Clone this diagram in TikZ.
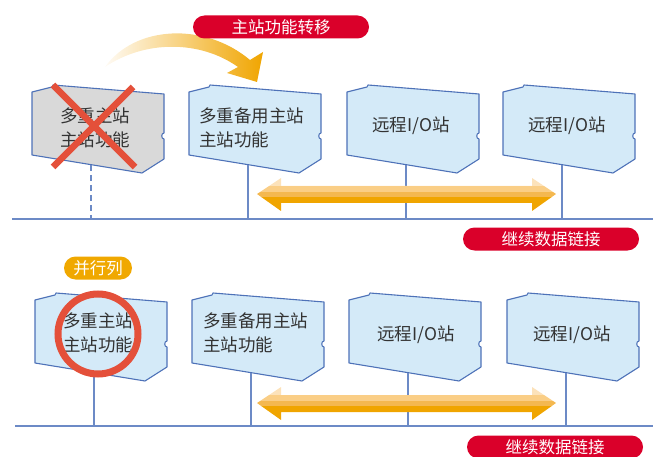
\documentclass[tikz,border=0pt]{standalone}
\usepackage{fontspec}
\setmainfont{Noto Sans CJK SC}
\usepackage{tikz}
\usetikzlibrary{positioning}

\definecolor{boxblue}{RGB}{212,234,248}
\definecolor{boxgray}{RGB}{217,217,217}
\definecolor{edgeblue}{RGB}{78,114,184}
\definecolor{busblue}{RGB}{108,138,198}
\definecolor{tagred}{RGB}{218,0,42}
\definecolor{tagorange}{RGB}{240,168,0}
\definecolor{crossred}{RGB}{228,80,58}
\definecolor{flowA}{RGB}{252,226,186}
\definecolor{flowB}{RGB}{250,206,134}
\definecolor{flowC}{RGB}{244,184,80}
\definecolor{flowD}{RGB}{240,165,0}

\tikzset{
  stationedge/.style={draw=edgeblue, line width=1.1pt, line join=round},
  bus/.style={draw=busblue, line width=1.3pt},
  tag/.style={rounded corners=11.5pt, minimum height=23pt, inner sep=0pt, text=white,
    font=\fontsize{16.5}{18}\selectfont},
  boxtext/.style={font=\fontsize{17.5}{24}\selectfont, inner sep=0pt, text=black!80},
  pics/station/.style={code={
    \draw[stationedge, fill=#1] (0,0) -- (20,-5) -- (21,-7) -- (132,2) -- (132,41)
      .. controls (129,41) and (129,47) .. (132,47) -- (132,67) -- (110,81) -- (0,63) -- cycle;
    \coordinate (-foot) at (59,73);
  }},
  pics/linkflow/.style={code={
    \begin{scope}
      \clip (0,0) -- (24,-16) -- (24,-8) -- (275,-8) -- (275,-16) -- (299,0)
        -- (275,17) -- (275,9) -- (24,9) -- (24,17) -- cycle;
      \fill[flowA] (0,-17) rectangle (299,-8);
      \fill[flowB] (0,-8) rectangle (299,-2);
      \fill[flowC] (0,-2) rectangle (299,3);
      \fill[flowD] (0,3) rectangle (299,18);
    \end{scope}
  }}
}

\begin{document}
\begin{tikzpicture}[x=1pt, y=-1pt]
  \useasboundingbox (0,0) rectangle (653,457);

  % Top network bus
  \coordinate (busTL) at (12,219);
  \coordinate (busTR) at (653,219);
  \draw[bus] (busTL) -- (busTR);

  % Master shift arrow
  \shade[left color=flowA!15, right color=flowD]
    (105,67) .. controls (135,25) and (205,22) .. (250,60) -- (263,52) -- (257,82)
    -- (227,73) -- (238,67) .. controls (200,40) and (145,40) .. (105,67) -- cycle;
  \node[tag, fill=tagred, minimum width=176pt] (shift) at (281,27) {主站功能转移};

  % Top row stations
  \pic (s1) at (32,92) {station=boxgray};
  \pic (s2) at (189,92) {station=boxblue};
  \pic (s3) at (347,92) {station=boxblue};
  \pic (s4) at (503,92) {station=boxblue};
  \draw[bus, dash pattern=on 6pt off 4pt] (s1-foot) -- (s1-foot |- busTL);
  \draw[bus] (s2-foot) -- (s2-foot |- busTL);
  \draw[bus] (s3-foot) -- (s3-foot |- busTL);
  \draw[bus] (s4-foot) -- (s4-foot |- busTL);

  \node[boxtext, align=center] (s1text) at (95,128) {多重主站\\主站功能};
  \node[boxtext, align=left, anchor=west] (s2text) at (199,128) {多重备用主站\\主站功能};
  \node[boxtext] (s3text) at (411,126) {远程I/O站};
  \node[boxtext] (s4text) at (567,126) {远程I/O站};

  % Failed master
  \draw[crossred, line width=6.5pt] (53,85) -- (135,167);
  \draw[crossred, line width=6.5pt] (133,87) -- (53,167);

  \pic at (257,194) {linkflow};
  \node[tag, fill=tagred, minimum width=176pt] (link1) at (551,239) {继续数据链接};

  % Bottom network bus
  \coordinate (busBL) at (15,426);
  \coordinate (busBR) at (653,426);
  \draw[bus] (busBL) -- (busBR);

  \node[tag, fill=tagorange, minimum width=68pt] (para) at (98,268) {并行列};

  % Bottom row stations
  \pic (b1) at (35,300) {station=boxblue};
  \pic (b2) at (192,300) {station=boxblue};
  \pic (b3) at (349,300) {station=boxblue};
  \pic (b4) at (507,300) {station=boxblue};
  \draw[bus] (b1-foot) -- (b1-foot |- busBL);
  \draw[bus] (b2-foot) -- (b2-foot |- busBL);
  \draw[bus] (b3-foot) -- (b3-foot |- busBL);
  \draw[bus] (b4-foot) -- (b4-foot |- busBL);

  \node[boxtext, align=center] (b1text) at (98,333) {多重主站\\主站功能};
  \node[boxtext, align=left, anchor=west] (b2text) at (203,333) {多重备用主站\\主站功能};
  \node[boxtext] (b3text) at (416,335) {远程I/O站};
  \node[boxtext] (b4text) at (572,335) {远程I/O站};

  % Parallel master
  \draw[crossred, line width=7pt] (98,334) circle (40);

  \pic at (257,403) {linkflow};
  \node[tag, fill=tagred, minimum width=176pt] (link2) at (555,447) {继续数据链接};
\end{tikzpicture}
\end{document}
